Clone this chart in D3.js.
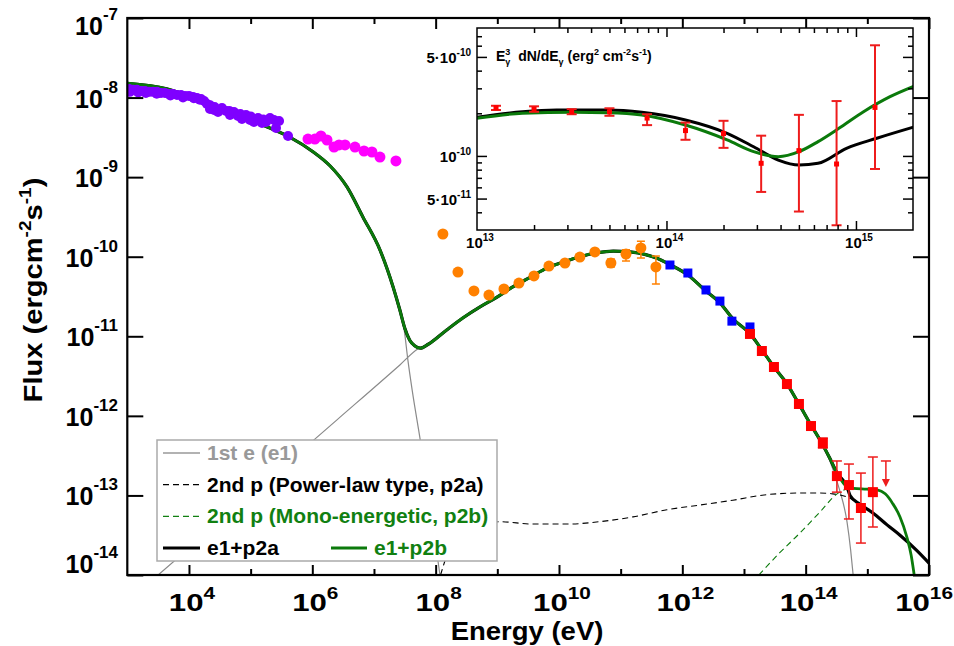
<!DOCTYPE html>
<html>
<head>
<meta charset="utf-8">
<script src="https://cdn.jsdelivr.net/npm/d3@7"></script>
<style>
  body { margin: 0; background: #fff; }
  text { font-family: "Liberation Sans", Arial, sans-serif; font-weight: bold; }
</style>
</head>
<body>
<svg width="954" height="646"></svg>
<script>
(function () {

  // ---- measured points: [energy eV, flux erg cm-2 s-1, (err low, err high)]
  var purple = [
    [1.07e3,1.28e-8],[1.1e3,1.18e-8],[1.24e3,1.25e-8],[1.43e3,1.25e-8],[1.5e3,1.16e-8],[1.67e3,1.21e-8],
    [1.94e3,1.21e-8],[2.0e3,1.14e-8],[2.25e3,1.18e-8],[2.61e3,1.18e-8],[3.0e3,1.12e-8],[3.03e3,1.18e-8],
    [3.52e3,1.14e-8],[4.08e3,1.14e-8],[4.74e3,1.11e-8],[5.0e3,1.06e-8],[5.51e3,1.11e-8],[6.4e3,1.08e-8],
    [7.43e3,1.08e-8],[8.0e3,1.0e-8],[8.63e3,1.05e-8],[1.0e4,1.05e-8],[1.16e4,1.02e-8],[1.2e4,9.8e-9],
    [1.35e4,9.88e-9],[1.5e4,9.4e-9],[1.57e4,9.6e-9],[1.76e4,9.06e-9],[1.96e4,8.3e-9],[2.19e4,7.18e-9],
    [2.2e4,8.0e-9],[2.55e4,6.98e-9],[2.6e4,7.6e-9],[2.96e4,6.59e-9],[3.43e4,7.39e-9],[3.98e4,6.78e-9],
    [4.5e4,6.8e-9],[4.63e4,6.04e-9],[5.37e4,6.59e-9],[6.24e4,5.87e-9],[6.8e4,6.2e-9],[7.24e4,5.38e-9],
    [8.41e4,6.04e-9],[9.77e4,5.23e-9],[1.0e5,5.8e-9],[1.13e5,4.93e-9],[1.32e5,5.54e-9],[1.53e5,4.79e-9],
    [1.6e5,5.3e-9],[1.78e5,4.93e-9],[2.06e5,5.54e-9],[2.39e5,5.23e-9],[2.58e5,4.15e-9],[2.89e5,5.08e-9],
    [4.04e5,3.29e-9]
  ]
  var magenta = [
    [8.51e5,3.01e-9],[1.10e6,3.01e-9],[1.38e6,3.29e-9],[1.73e6,2.93e-9],[2.25e6,2.39e-9],[2.71e6,2.54e-9],
    [3.39e6,2.54e-9],[4.92e6,2.39e-9],[6.89e6,2.13e-9],[9.27e6,2.07e-9],[1.25e7,1.79e-9],[2.27e7,1.60e-9]
  ]
  var orange = [
    [1.31e8,1.93e-10],[2.30e8,6.42e-11],[4.18e8,3.71e-11],[7.31e8,3.30e-11],[1.28e9,3.93e-11],
    [2.24e9,4.67e-11],[3.93e9,5.73e-11],[6.87e9,7.64e-11],[1.25e10,8.34e-11],[2.18e10,9.91e-11],
    [3.82e10,1.15e-10],[6.95e10,8.34e-11,7.43e-11,9.35e-11],[1.22e11,1.08e-10,8.83e-11,1.22e-10],
    [2.13e11,1.29e-10,9.63e-11,1.57e-10],[3.73e11,7.43e-11,4.54e-11,1.02e-10]
  ]
  var blue = [
    [6.30e11,7.87e-11],[1.23e12,6.24e-11],[2.42e12,3.82e-11],[4.07e12,2.77e-11],[6.37e12,1.55e-11],[1.25e13,1.31e-11]
  ]
  var red = [
    [1.25e13,1.07e-11],[1.95e13,6.53e-12],[3.06e13,4.11e-12],[4.97e13,2.51e-12],[7.78e13,1.41e-12],
    [1.22e14,7.45e-13],[1.90e14,4.56e-13,3.94e-13,5.27e-13],[3.21e14,1.75e-13,1.10e-13,2.71e-13],
    [5.03e14,1.35e-13,5.06e-14,2.48e-13],[7.87e14,6.95e-14,2.52e-14,1.91e-13],[1.23e15,1.10e-13,4.01e-14,3.04e-13]
  ]
  var upperLimits = [[2.0e15, 2.71e-13]]

  // ---- model curves, as [log10 E, log10 flux]
  var modelShared = [
    [3.0,-7.82],[3.64,-7.89],[4.18,-8.03],[4.71,-8.19],[5.27,-8.37],[5.64,-8.50],[6.01,-8.68],[6.29,-8.86],
    [6.56,-9.12],[6.82,-9.50],[7.10,-9.92],[7.31,-10.38],[7.42,-10.67],[7.50,-10.90],[7.58,-11.05],
    [7.66,-11.12],[7.75,-11.15],[7.88,-11.10],[8.18,-10.92],[8.44,-10.77],[8.72,-10.63],[8.99,-10.51],
    [9.25,-10.38],[9.53,-10.26],[9.81,-10.14],[10.06,-10.07],[10.34,-10.00],[10.62,-9.95],[10.88,-9.93],
    [11.15,-9.94],[11.39,-9.97],[11.59,-10.02],[11.80,-10.10],[12.09,-10.23],[12.38,-10.43],[12.61,-10.58],
    [12.82,-10.78],[13.10,-10.97],[13.29,-11.17],[13.49,-11.39],[13.70,-11.60],[13.89,-11.85],[14.09,-12.12],
    [14.26,-12.34],[14.39,-12.53],[14.51,-12.72],[14.67,-12.89]
  ]
  var blackTail = [[14.72,-13.00],[14.88,-13.11],[15.09,-13.22],[15.32,-13.37],[15.53,-13.50],[15.80,-13.69],[16.0,-13.85]]
  var greenTail = [[14.77,-12.91],[14.99,-12.92],[15.16,-12.93],[15.29,-12.98],[15.41,-13.10],[15.53,-13.27],[15.64,-13.52],[15.71,-13.75],[15.76,-14.0]]
  var syncTail = [[7.49,-10.92],[7.55,-11.30],[7.62,-11.68],[7.75,-12.30],[7.91,-13.12],[8.07,-14.0]]
  var icRise = [[3.50,-14.0],[4.99,-13.0],[6.40,-12.05],[7.42,-11.36],[7.71,-11.16]]
  var icTail = [[14.39,-12.56],[14.55,-12.93],[14.67,-13.33],[14.73,-13.69],[14.77,-14.0]]
  var p2a = [
    [8.08,-14.0],[8.18,-13.76],[8.39,-13.52],[8.70,-13.38],[9.04,-13.33],[9.58,-13.36],[10.13,-13.36],
    [10.66,-13.33],[11.20,-13.27],[11.75,-13.18],[12.29,-13.12],[12.82,-13.06],[13.37,-12.99],[13.91,-12.97],
    [14.23,-12.97],[14.44,-12.98],[14.67,-13.02],[14.88,-13.11],[15.09,-13.22],[15.32,-13.37],[15.53,-13.50],
    [15.80,-13.69],[16.0,-13.85]
  ]
  var p2bRise = [[13.24,-14.0],[13.58,-13.72],[13.91,-13.47],[14.23,-13.21],[14.51,-12.98],[14.67,-12.92]]

  // ---- inset (E^3 dN/dE)
  var insetPts = [
    [1.26e13,2.19e-10,2.11e-10,2.26e-10],[2.0e13,2.14e-10,2.05e-10,2.24e-10],[3.16e13,2.05e-10,1.97e-10,2.14e-10],
    [5.0e13,2.05e-10,1.92e-10,2.17e-10],[7.9e13,1.85e-10,1.65e-10,1.97e-10],[1.26e14,1.51e-10,1.30e-10,1.72e-10],
    [2.0e14,1.44e-10,1.14e-10,1.77e-10],[3.16e14,8.87e-11,5.57e-11,1.39e-10],[5.0e14,1.09e-10,4.05e-11,1.95e-10],
    [7.9e14,8.77e-11,3.24e-11,2.44e-10],[1.26e15,2.20e-10,8.09e-11,6.04e-10]
  ]
  var insetBlack = [
    [13.0,-9.727],[13.24,-9.688],[13.42,-9.676],[13.69,-9.676],[13.87,-9.692],[14.10,-9.746],[14.32,-9.840],
    [14.46,-9.935],[14.59,-10.029],[14.70,-10.064],[14.80,-10.052],[14.95,-9.946],[15.11,-9.875],[15.31,-9.794]
  ]
  var insetGreen = [
    [13.0,-9.734],[13.24,-9.699],[13.51,-9.692],[13.69,-9.695],[13.87,-9.711],[14.10,-9.782],[14.32,-9.887],
    [14.46,-9.970],[14.59,-10.005],[14.70,-9.970],[14.80,-9.899],[14.91,-9.805],[15.04,-9.688],[15.18,-9.582],[15.31,-9.506]
  ]

  // ---- ticks / labels
  var xMajorExp = [4, 6, 8, 10, 12, 14, 16]
  var xMinorExp = [5, 7, 9, 11, 13, 15]
  var yExp = [-7, -8, -9, -10, -11, -12, -13, -14]
  var insetXExp = [13, 14, 15]
  var insetYLabels = [[5e-10, '5\u00b710', '-10'], [1e-10, '10', '-10'], [5e-11, '5\u00b710', '-11']]

  var legendRows = [
    { label: '1st e (e1)', color: '#999', dash: null, width: 1.5, text: '#999' },
    { label: '2nd p (Power-law type, p2a)', color: '#000', dash: '6,4', width: 1.2, text: '#000' },
    { label: '2nd p (Mono-energetic, p2b)', color: '#118011', dash: '6,4', width: 1.2, text: '#118011' },
    { label: 'e1+p2a', color: '#000', dash: null, width: 3, text: '#000' }
  ]

  var GREEN = '#0b7a0b'
  var svg = d3.select('svg')
  var L = 127.3, R = 929, T = 18, B = 575

  var x = d3.scaleLog().domain([1e3, 1e16]).range([L, R])
  var y = d3.scaleLog().domain([1e-14, 1e-7]).range([B, T])
  var p10 = function (v) { return Math.pow(10, v) }

  svg.append('clipPath').attr('id', 'mainClip')
    .append('rect').attr('x', L).attr('y', T).attr('width', R - L).attr('height', B - T)

  var line = d3.line()
    .x(d => x(p10(d[0])))
    .y(d => y(p10(d[1])))
    .curve(d3.curveMonotoneX)

  var plot = svg.append('g').attr('clip-path', 'url(#mainClip)')

  function drawCurve(g, data, color, width, dash, gen) {
    g.append('path').datum(data)
      .attr('d', gen || line)
      .attr('fill', 'none')
      .attr('stroke', color)
      .attr('stroke-width', width)
      .attr('stroke-dasharray', dash)
  }

  var syncGray = modelShared.filter(d => d[0] <= 7.42).concat(syncTail)
  var icGray = icRise.concat(modelShared.filter(d => d[0] > 7.8 && d[0] < 14.3)).concat(icTail)
  var e1p2a = modelShared.concat(blackTail)
  var e1p2b = modelShared.concat(greenTail)
  var p2b = p2bRise.concat(greenTail)

  drawCurve(plot, syncGray, '#8a8a8a', 1.2)
  drawCurve(plot, icGray, '#8a8a8a', 1.2)
  drawCurve(plot, p2a, '#000', 1.1, '6,4')
  drawCurve(plot, p2b, GREEN, 1.1, '6,4')
  drawCurve(plot, e1p2a, '#000', 3.2)
  drawCurve(plot, e1p2b, GREEN, 2.8)

  // points
  plot.selectAll('.pu').data(purple).enter().append('circle')
    .attr('cx', d => x(d[0])).attr('cy', d => y(d[1])).attr('r', 5).attr('fill', '#7f00ff')
  plot.selectAll('.ma').data(magenta).enter().append('circle')
    .attr('cx', d => x(d[0])).attr('cy', d => y(d[1])).attr('r', 5.5).attr('fill', '#ff00ff')

  function errBars(g, data, sx, sy, color, cap, w) {
    data.filter(d => d.length > 2).forEach(function (d) {
      var cx = sx(d[0])
      g.append('line').attr('x1', cx).attr('x2', cx).attr('y1', sy(d[2])).attr('y2', sy(d[3]))
        .attr('stroke', color).attr('stroke-width', w)
      ;[d[2], d[3]].forEach(function (v) {
        g.append('line').attr('x1', cx - cap).attr('x2', cx + cap).attr('y1', sy(v)).attr('y2', sy(v))
          .attr('stroke', color).attr('stroke-width', w)
      })
    })
  }

  errBars(plot, orange, x, y, '#ff8000', 4, 1.5)
  plot.selectAll('.or').data(orange).enter().append('circle')
    .attr('cx', d => x(d[0])).attr('cy', d => y(d[1])).attr('r', 5.5).attr('fill', '#ff8000')

  plot.selectAll('.bl').data(blue).enter().append('rect')
    .attr('x', d => x(d[0]) - 4.5).attr('y', d => y(d[1]) - 4.5).attr('width', 9).attr('height', 9)
    .attr('fill', '#0000ff')

  errBars(plot, red, x, y, '#ee1c1c', 5, 1.5)
  plot.selectAll('.rd').data(red).enter().append('rect')
    .attr('x', d => x(d[0]) - 5).attr('y', d => y(d[1]) - 5).attr('width', 10).attr('height', 10)
    .attr('fill', '#ff0000')

  upperLimits.forEach(function (d) {
    var cx = x(d[0]), cy = y(d[1])
    plot.append('line').attr('x1', cx - 5).attr('x2', cx + 5).attr('y1', cy).attr('y2', cy)
      .attr('stroke', '#ee1c1c').attr('stroke-width', 1.5)
    plot.append('line').attr('x1', cx).attr('x2', cx).attr('y1', cy).attr('y2', cy + 20)
      .attr('stroke', '#ee1c1c').attr('stroke-width', 1.5)
    plot.append('path').attr('d', 'M' + (cx - 4) + ',' + (cy + 18) + 'L' + (cx + 4) + ',' + (cy + 18) + 'L' + cx + ',' + (cy + 26) + 'Z')
      .attr('fill', '#ee1c1c')
  })

  // ---- main axes: frame + inward ticks
  function ticks(axis, vals, size, tr) {
    svg.append('g').attr('transform', tr)
      .call(axis.tickValues(vals).tickSize(-size).tickFormat(''))
      .call(g => g.select('.domain').remove())
      .selectAll('line').attr('stroke', '#000').attr('stroke-width', 2)
  }
  var xMaj = xMajorExp.map(p10), xMin = xMinorExp.map(p10), yMaj = yExp.map(p10)
  ticks(d3.axisBottom(x), xMaj, 10, 'translate(0,' + B + ')')
  ticks(d3.axisBottom(x), xMin, 6, 'translate(0,' + B + ')')
  ticks(d3.axisTop(x), xMaj, 11, 'translate(0,' + T + ')')
  ticks(d3.axisTop(x), xMin, 6, 'translate(0,' + T + ')')
  ticks(d3.axisLeft(y), yMaj, 16, 'translate(' + L + ',0)')
  ticks(d3.axisRight(y), yMaj, 16, 'translate(' + R + ',0)')

  svg.append('rect').attr('x', L).attr('y', T).attr('width', R - L).attr('height', B - T)
    .attr('fill', 'none').attr('stroke', '#000').attr('stroke-width', 2.2)

  // y tick labels
  yExp.forEach(function (e, i) {
    var off = i === 0 ? 17 : (i === yExp.length - 1 ? -2 : 10)
    var t = svg.append('text').attr('x', 118).attr('y', y(p10(e)) + off)
      .attr('text-anchor', 'end').style('font-size', '25px')
    t.append('tspan').text('10')
    t.append('tspan').attr('dy', -15).style('font-size', '17px').text(e)
  })
  // x tick labels (the last one is pulled in so it stays on the page)
  xMajorExp.forEach(function (e, i) {
    var shift = i === xMajorExp.length - 1 ? -5 : 3
    var t = svg.append('text')
      .attr('transform', 'translate(' + (x(p10(e)) + shift) + ',611) scale(1.3,1)')
      .attr('text-anchor', i === xMajorExp.length - 1 ? 'end' : 'middle')
      .style('font-size', '24px')
    if (i === xMajorExp.length - 1) t.attr('transform', 'translate(953,611) scale(1.3,1)')
    t.append('tspan').text('10')
    t.append('tspan').attr('dy', -12).style('font-size', '16px').text(e)
  })

  svg.append('text').attr('transform', 'translate(527,640) scale(1.1,1)')
    .attr('text-anchor', 'middle').style('font-size', '25px').text('Energy (eV)')

  var yl = svg.append('text').attr('transform', 'translate(42,290) rotate(-90) scale(1.12,1)')
    .attr('text-anchor', 'middle').style('font-size', '26px')
  yl.append('tspan').text('Flux (ergcm')
  yl.append('tspan').attr('dy', -11).style('font-size', '17px').text('-2')
  yl.append('tspan').attr('dy', 11).text('s')
  yl.append('tspan').attr('dy', -11).style('font-size', '17px').text('-1')
  yl.append('tspan').attr('dy', 11).text(')')

  // ---- legend
  var lg = svg.append('g')
  lg.append('rect').attr('x', 157).attr('y', 440).attr('width', 340).attr('height', 121)
    .attr('fill', '#fff').attr('stroke', '#aaa').attr('stroke-width', 1.5)
  legendRows.forEach(function (r, i) {
    var cy = 453 + i * 31.7
    lg.append('line').attr('x1', 163).attr('x2', 200).attr('y1', cy).attr('y2', cy)
      .attr('stroke', r.color).attr('stroke-width', r.width).attr('stroke-dasharray', r.dash)
    lg.append('text').attr('x', 207).attr('y', cy + 7).attr('fill', r.text)
      .style('font-size', '21px').text(r.label)
  })
  var lastY = 453 + 3 * 31.7
  lg.append('line').attr('x1', 331).attr('x2', 367).attr('y1', lastY).attr('y2', lastY)
    .attr('stroke', GREEN).attr('stroke-width', 3)
  lg.append('text').attr('x', 374).attr('y', lastY + 7).attr('fill', '#118011')
    .style('font-size', '21px').text('e1+p2b')

  // ---- inset
  var IL = 477, IR = 913, IT = 28, IB = 230
  var ix = d3.scaleLog().domain([1e13, 2e15]).range([IL, IR])
  var iy = d3.scaleLog().domain([3e-11, 8e-10]).range([IB, IT])

  svg.append('rect').attr('x', IL).attr('y', IT).attr('width', IR - IL).attr('height', IB - IT).attr('fill', '#fff')
  svg.append('clipPath').attr('id', 'insetClip')
    .append('rect').attr('x', IL).attr('y', IT).attr('width', IR - IL).attr('height', IB - IT)
  var inset = svg.append('g').attr('clip-path', 'url(#insetClip)')

  var iline = d3.line()
    .x(d => ix(p10(d[0])))
    .y(d => iy(p10(d[1])))
    .curve(d3.curveMonotoneX)
  drawCurve(inset, insetBlack, '#000', 3, null, iline)
  drawCurve(inset, insetGreen, GREEN, 3, null, iline)

  errBars(inset, insetPts, ix, iy, '#ee1c1c', 5, 2)
  inset.selectAll('.ip').data(insetPts).enter().append('rect')
    .attr('x', d => ix(d[0]) - 2.5).attr('y', d => iy(d[1]) - 2.5).attr('width', 5).attr('height', 5)
    .attr('fill', '#ff0000')

  // inset ticks
  var ixMinor = [], iyMinor = []
  ;[1e13, 1e14, 1e15].forEach(function (dec) {
    for (var k = 2; k <= 9; k++) if (dec * k < 2e15) ixMinor.push(dec * k)
  })
  ;[1e-11, 1e-10].forEach(function (dec) {
    for (var k = 1; k <= 9; k++) {
      var v = dec * k
      if (v > 3e-11 && v < 8e-10 && v !== 1e-10 && Math.abs(v - 5e-10) > 1e-13 && Math.abs(v - 5e-11) > 1e-14) iyMinor.push(v)
    }
  })
  var iyMajor = [5e-11, 1e-10, 5e-10], ixMajor = [1e14, 1e15]
  function iticks(axis, vals, size, tr) {
    svg.append('g').attr('transform', tr)
      .call(axis.tickValues(vals).tickSize(-size).tickFormat(''))
      .call(g => g.select('.domain').remove())
      .selectAll('line').attr('stroke', '#000').attr('stroke-width', 1.5)
  }
  iticks(d3.axisBottom(ix), ixMinor, 5, 'translate(0,' + IB + ')')
  iticks(d3.axisBottom(ix), ixMajor, 9, 'translate(0,' + IB + ')')
  iticks(d3.axisTop(ix), ixMinor, 5, 'translate(0,' + IT + ')')
  iticks(d3.axisTop(ix), ixMajor, 9, 'translate(0,' + IT + ')')
  iticks(d3.axisLeft(iy), iyMinor, 5, 'translate(' + IL + ',0)')
  iticks(d3.axisLeft(iy), iyMajor, 10, 'translate(' + IL + ',0)')
  iticks(d3.axisRight(iy), iyMinor, 5, 'translate(' + IR + ',0)')
  iticks(d3.axisRight(iy), iyMajor, 10, 'translate(' + IR + ',0)')

  svg.append('rect').attr('x', IL).attr('y', IT).attr('width', IR - IL).attr('height', IB - IT)
    .attr('fill', 'none').attr('stroke', '#000').attr('stroke-width', 1.5)

  insetYLabels.forEach(function (d) {
    var t = svg.append('text').attr('x', 471).attr('y', iy(d[0]) + 6)
      .attr('text-anchor', 'end').style('font-size', '15px')
    t.append('tspan').text(d[1])
    t.append('tspan').attr('dy', -7).style('font-size', '10px').text(d[2])
  })
  insetXExp.forEach(function (e) {
    var t = svg.append('text').attr('x', ix(p10(e)) + 3).attr('y', 248)
      .attr('text-anchor', 'middle').style('font-size', '15px')
    t.append('tspan').text('10')
    t.append('tspan').attr('dy', -7).style('font-size', '10px').text(e)
  })

  var tt = svg.append('text').attr('x', 496).attr('y', 61).style('font-size', '14px')
  tt.append('tspan').text('E')
  tt.append('tspan').attr('dy', -6).style('font-size', '9px').text('3')
  tt.append('tspan').attr('dx', -5).attr('dy', 10).style('font-size', '9px').text('\u03b3')
  tt.append('tspan').attr('dy', -4).text('\u00a0 dN/dE')
  tt.append('tspan').attr('dy', 4).style('font-size', '9px').text('\u03b3')
  tt.append('tspan').attr('dy', -4).text(' (erg')
  tt.append('tspan').attr('dy', -6).style('font-size', '9px').text('2')
  tt.append('tspan').attr('dy', 6).text(' cm')
  tt.append('tspan').attr('dy', -6).style('font-size', '9px').text('-2')
  tt.append('tspan').attr('dy', 6).text('s')
  tt.append('tspan').attr('dy', -6).style('font-size', '9px').text('-1')
  tt.append('tspan').attr('dy', 6).text(')')

})()
</script>
</body>
</html>
